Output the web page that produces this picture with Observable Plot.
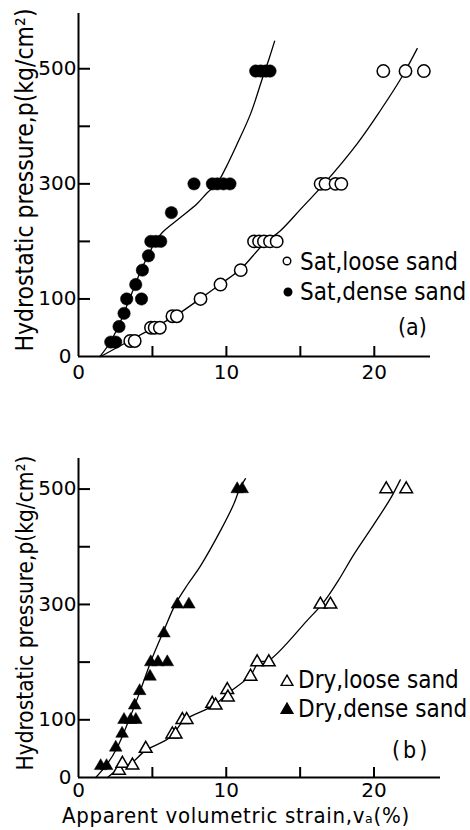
<!DOCTYPE html>
<html><head><meta charset="utf-8">
<script src="https://cdn.jsdelivr.net/npm/d3@7"></script>
<script src="https://cdn.jsdelivr.net/npm/@observablehq/plot@0.6"></script>
<style>
body{margin:0;background:#fff;}
#wrap{position:relative;width:470px;height:830px;overflow:hidden;font-family:"DejaVu Sans Condensed","DejaVu Sans",sans-serif;color:#000;background:#fff;}
.panel{position:absolute;left:0;}
.t{position:absolute;white-space:nowrap;line-height:1;}
.rot{position:absolute;white-space:nowrap;line-height:1;transform:translate(-50%,-50%) rotate(-90deg);}
</style></head><body><div id="wrap"></div>
<script>
// ---------- Panel (a): saturated sand ----------
const satLooseStrain = [3.5,3.8,4.9,5.15,5.5,6.35,6.65,8.25,9.6,10.97,11.87,12.21,12.54,12.95,13.4,16.37,16.7,17.38,17.77,20.61,22.11,23.35];
const satLooseP      = [27,27,50,50,50,70,70,100,125,150,200,200,200,200,200,300,300,300,300,496,496,496];
const satDenseStrain = [2.18,2.52,2.74,3.08,3.26,4.26,3.87,4.32,4.73,4.89,5.22,5.56,6.28,7.81,9.05,9.39,9.8,10.24,11.98,12.32,12.66,12.95];
const satDenseP      = [25,25,52,75,100,100,125,150,175,200,200,200,250,300,300,300,300,300,496,496,496,496];
const satLooseCurveStrain = [1.5,3.42,5.0,6.57,8.26,9.61,10.97,12.54,13.67,15.02,16.6,18.85,20.4,21.8,22.9];
const satLooseCurveP      = [0,27,49,71,101,126,152,196,219,256,300,370,427,483,535];
const satDenseCurveStrain = [1.45,2.2,2.86,3.31,3.76,4.21,4.7,5.2,5.68,6.91,8.0,8.72,9.35,10.0,10.74,11.64,12.43,12.88,13.26];
const satDenseCurveP      = [0,27,62,91,120,149,175,200,216,242,265,285,300,330,370,422,483,517,548];

// ---------- Panel (b): dry sand ----------
const dryLooseStrain = [2.74,2.97,3.65,4.55,6.35,6.57,7.03,7.32,9.05,9.28,10.07,10.11,11.64,12.09,12.88,16.37,17.05,20.83,22.18];
const dryLooseP      = [12,24,21,50,75,75,100,100,128,125,152,139,175,200,200,300,300,500,500];
const dryDenseStrain = [1.5,1.9,2.52,2.95,3.08,3.53,3.88,3.8,4.14,4.84,4.89,5.38,6.01,5.78,6.69,7.47,10.74,11.08];
const dryDenseP      = [20,20,52,76,100,100,100,125,150,175,200,200,200,250,300,300,500,500];
const dryLooseCurveStrain = [1.96,2.74,3.53,4.55,6.24,7.14,9.16,10.07,11.64,12.2,12.88,15.47,16.6,17.6,18.62,19.97,21.1,21.78];
const dryLooseCurveP      = [0,15,24,47,70,99,125,145,177,200,203,272,304,342,386,438,483,516];
const dryDenseCurveStrain = [1.17,1.96,2.64,3.31,4.1,5.0,5.78,6.57,7.4,8.26,9.61,10.51,10.9,11.3];
const dryDenseCurveP      = [0,24,53,93,145,208,255,301,335,367,428,474,500,518];

// ---------- Axes ----------
const xTickMarks  = [5,10,15,20];
const xTickLabels = [0,10,20];
const yTickMarks  = [100,200,300,400,500];
const yTickLabels = [0,100,300,500];

const yTitle = "Hydrostatic pressure,p(kg/cm²)";
const xTitle = "Apparent volumetric strain,vₐ(%)";
const legendA = ["Sat,loose sand","Sat,dense sand"];
const legendB = ["Dry,loose sand","Dry,dense sand"];
const panelTags = ["(a)","(b)"];

const FONT = '"DejaVu Sans Condensed","DejaVu Sans",sans-serif';
const TICKFONT = '"DejaVu Sans",sans-serif';
const zip = (xs, ys) => xs.map((x, i) => ({x, y: ys[i]}));

function panel({height, marginTop, marginBottom, marginRight, xMax, yMax, curves, open, filled, symbol, r, xPad}) {
  return Plot.plot({
    width: 470, height, marginLeft: 78, marginRight, marginTop, marginBottom,
    style: {fontFamily: TICKFONT, fontSize: "20px", color: "#000", background: "transparent"},
    x: {domain: [0, xMax], axis: null},
    y: {domain: [0, yMax], axis: null},
    marks: [
      Plot.axisY(yTickLabels.filter(d => d !== 0), {tickSize: 0, tickPadding: 2, fontSize: 20, label: null}),
      Plot.axisY(yTickLabels.filter(d => d === 0), {tickSize: 0, tickPadding: 7, fontSize: 20, label: null}),
      Plot.axisY(yTickMarks, {tickSize: 12, dx: 12, fill: "none", strokeWidth: 2, label: null}),
      Plot.axisX(xTickLabels, {tickSize: 0, tickPadding: xPad, fontSize: 20, label: null}),
      Plot.axisX(xTickMarks, {tickSize: 10, dy: -10, fill: "none", strokeWidth: 2, label: null}),
      Plot.ruleX([0], {strokeWidth: 2}),
      Plot.ruleY([0], {strokeWidth: 2}),
      ...curves.map(c => Plot.line(c, {x: "x", y: "y", curve: "catmull-rom", strokeWidth: 1.3})),
      Plot.dot(open, {x: "x", y: "y", r, symbol, fill: "white", stroke: "black", strokeWidth: 1.5}),
      Plot.dot(filled, {x: "x", y: "y", r, symbol, fill: "black", stroke: "black", strokeWidth: 0.5})
    ]
  });
}

const wrap = document.getElementById("wrap");

const pa = panel({
  height: 400, marginTop: 13, marginBottom: 44, marginRight: 40, xMax: 23.8, yMax: 596,
  curves: [zip(satLooseCurveStrain, satLooseCurveP), zip(satDenseCurveStrain, satDenseCurveP)],
  open: zip(satLooseStrain, satLooseP), filled: zip(satDenseStrain, satDenseP), symbol: "circle", r: 6.2, xPad: 8
});
pa.classList.add("panel"); pa.style.top = "0px";
wrap.appendChild(pa);

const pb = panel({
  height: 420, marginTop: 48, marginBottom: 53, marginRight: 30, xMax: 24.5, yMax: 553,
  curves: [zip(dryLooseCurveStrain, dryLooseCurveP), zip(dryDenseCurveStrain, dryDenseCurveP)],
  open: zip(dryLooseStrain, dryLooseP), filled: zip(dryDenseStrain, dryDenseP), symbol: "triangle", r: 4.7, xPad: 5
});
pb.classList.add("panel"); pb.style.top = "410px";
wrap.appendChild(pb);

// ---------- Text & legends ----------
function text(str, left, baseline, size, extra = "") {
  const d = document.createElement("div");
  d.className = "t";
  d.textContent = str;
  d.style.cssText += `left:${left}px;top:${baseline - 0.846 * size}px;font-size:${size}px;${extra}`;
  wrap.appendChild(d);
  return d;
}
function rotText(str, cx, cy, size) {
  const d = document.createElement("div");
  d.className = "rot";
  d.textContent = str;
  d.style.cssText += `left:${cx}px;top:${cy}px;font-size:${size}px;`;
  wrap.appendChild(d);
}
function marker(kind, cx, cy) {
  const s = d3.select(wrap).append("svg")
    .attr("width", 16).attr("height", 16)
    .style("position", "absolute").style("left", (cx - 8) + "px").style("top", (cy - 8) + "px");
  if (kind.startsWith("circle")) {
    s.append("circle").attr("cx", 8).attr("cy", 8).attr("r", 3.8)
      .attr("fill", kind.endsWith("open") ? "white" : "black").attr("stroke", "black").attr("stroke-width", 1.4);
  } else {
    s.append("path").attr("transform", "translate(8,9)")
      .attr("d", d3.symbol(d3.symbolTriangle, 60)())
      .attr("fill", kind.endsWith("open") ? "white" : "black").attr("stroke", "black").attr("stroke-width", 1.4);
  }
}

rotText(yTitle, 25, 180, 24.5);
rotText(yTitle, 25, 613, 22.5);
text(xTitle, 62, 824, 22, "letter-spacing:0.7px;");

marker("circle-open", 287, 261);   text(legendA[0], 300, 270, 24);
marker("circle-filled", 288, 292); text(legendA[1], 300, 300, 24);
text(panelTags[0], 398, 335, 23);

marker("tri-open", 287, 681);      text(legendB[0], 298, 688, 24);
marker("tri-filled", 287, 709);    text(legendB[1], 298, 717, 24);
text(panelTags[1], 392, 758, 23, "letter-spacing:3px;");
</script></body></html>
